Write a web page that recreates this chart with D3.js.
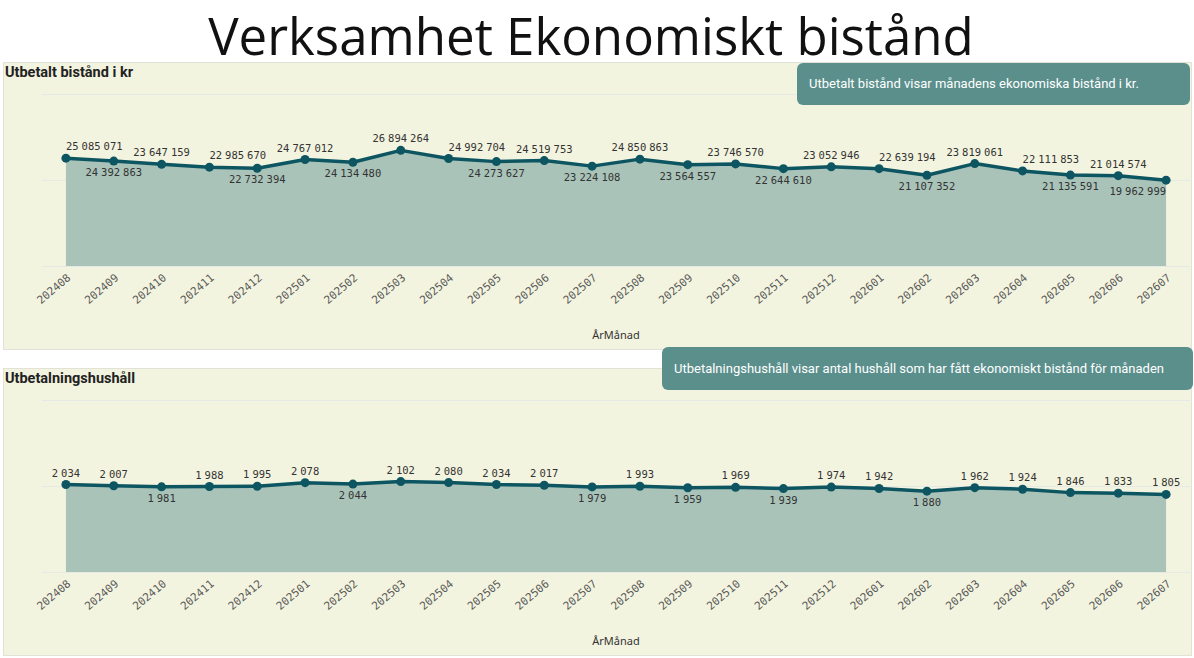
<!DOCTYPE html>
<html>
<head>
<meta charset="utf-8">
<script src="https://cdn.jsdelivr.net/npm/d3@7/dist/d3.min.js"></script>
<style>
  html, body { margin: 0; padding: 0; background: #fff; }
  svg { display: block; }
</style>
</head>
<body>
<svg id="chart" width="1194" height="658"></svg>
<script>
// data
const months = ['202408', '202409', '202410', '202411', '202412', '202501', '202502', '202503',
  '202504', '202505', '202506', '202507', '202508', '202509', '202510', '202511', '202512',
  '202601', '202602', '202603', '202604', '202605', '202606', '202607'];
const utbetaltKr = [25085071, 24392863, 23647159, 22985670, 22732394, 24767012, 24134480, 26894264,
  24992704, 24273627, 24519753, 23224108, 24850863, 23564557, 23746570, 22644610, 23052946,
  22639194, 21107352, 23819061, 22111853, 21135591, 21014574, 19962999];
const hushall = [2034, 2007, 1981, 1988, 1995, 2078, 2044, 2102, 2080, 2034, 2017, 1979, 1993,
  1959, 1969, 1939, 1974, 1942, 1880, 1962, 1924, 1846, 1833, 1805];
const krTicks = [0, 20000000, 40000000];
const hushallTicks = [0, 2000, 4000];

const sv = d3.formatLocale({ decimal: ',', thousands: ' ', grouping: [3], currency: ['', ' kr'] });
const fmt = sv.format(',d');

const svg = d3.select('#chart');

// sidtitel
svg.append('text')
  .attr('x', 591)
  .attr('y', 55)
  .attr('text-anchor', 'middle')
  .style('font-family', '"Open Sans", "Noto Sans", sans-serif')
  .style('font-size', '51px')
  .style('fill', '#111')
  .text('Verksamhet Ekonomiskt bistånd');

const panels = [
  { top: 62, title: 'Utbetalt bistånd i kr', values: utbetaltKr, ticks: krTicks,
    tip: 'Utbetalt bistånd visar månadens ekonomiska bistånd i kr.', tipBox: [797, 63, 393, 42] },
  { top: 368, title: 'Utbetalningshushåll', values: hushall, ticks: hushallTicks,
    tip: 'Utbetalningshushåll visar antal hushåll som har fått ekonomiskt bistånd för månaden', tipBox: [662, 347, 531, 43] }
];

// paneler först, sedan tooltips ovanpå
panels.forEach(p => drawPanel(p));
panels.forEach(p => drawTip(p));

function drawPanel(p) {
  const g = svg.append('g').attr('transform', `translate(0 ${p.top})`);
  const h = 287;
  g.append('rect')
    .attr('x', 3.5).attr('y', 0.5)
    .attr('width', 1188).attr('height', h)
    .attr('fill', '#f3f4df')
    .attr('stroke', '#e2e3d6');

  g.append('text')
    .attr('x', 5).attr('y', 15)
    .style('font-family', 'Roboto, sans-serif')
    .style('font-weight', 'bold')
    .style('font-size', '14.5px')
    .style('fill', '#222')
    .text(p.title);

  const x = d3.scalePoint().domain(months).range([42, 1190]).padding(0.5);
  const y = d3.scaleLinear().domain([0, d3.max(p.ticks)]).range([204, 32]);

  // rutnät
  g.append('g').selectAll('line').data(p.ticks).enter()
    .append('line')
    .attr('x1', 42).attr('x2', 1190)
    .attr('y1', d => y(d) + 0.5).attr('y2', d => y(d) + 0.5)
    .attr('stroke', '#e6eae6')
    .attr('stroke-width', 1);

  const pts = months.map((m, i) => ({ m, v: p.values[i] }));

  const area = d3.area().x(d => x(d.m)).y0(y(0)).y1(d => y(d.v));
  g.append('path').datum(pts)
    .attr('d', area)
    .attr('fill', '#a9c3b9');

  const line = d3.line().x(d => x(d.m)).y(d => y(d.v));
  g.append('path').datum(pts)
    .attr('d', line)
    .attr('fill', 'none')
    .attr('stroke', '#0c5561')
    .attr('stroke-width', 3.5)
    .attr('stroke-linejoin', 'round');

  g.append('g').selectAll('circle').data(pts).enter()
    .append('circle')
    .attr('cx', d => x(d.m))
    .attr('cy', d => y(d.v))
    .attr('r', 4.5)
    .attr('fill', '#0c5561');

  // x-axel
  const xAxis = d3.axisBottom(x).tickSize(0).tickPadding(0);
  const ax = g.append('g').attr('transform', `translate(0 ${y(0)})`).call(xAxis);
  ax.select('.domain').remove();
  ax.selectAll('text')
    .attr('text-anchor', 'end')
    .attr('dy', null)
    .attr('y', null)
    .attr('transform', 'translate(5 13) rotate(-40)')
    .style('font-family', '"DejaVu Sans Mono", monospace')
    .style('font-size', '11px')
    .style('fill', '#5a5a5a');

  g.append('text')
    .attr('x', (42 + 1190) / 2)
    .attr('y', 277)
    .attr('text-anchor', 'middle')
    .style('font-family', '"Noto Sans", sans-serif')
    .style('font-size', '11px')
    .style('fill', '#333')
    .text('ÅrMånad');

  drawLabels(g, pts, x, y);
}

// värdeetiketter: ovanför, under om punkten är en lokal dal eller om det krockar
function drawLabels(g, pts, x, y) {
  const lo = 42, hi = 1190, gap = 2;
  const lastRight = { up: -Infinity, down: -Infinity };
  pts.forEach((d, i) => {
    const px = x(d.m), py = y(d.v);
    const t = g.append('text')
      .style('font-family', '"DejaVu Sans Mono", monospace')
      .style('font-size', '10.5px')
      .style('word-spacing', '-3.3px')
      .style('fill', '#333')
      .text(fmt(d.v));
    const w = t.node().getBBox().width;
    const isValley = i > 0 && i < pts.length - 1 && d.v < pts[i - 1].v && d.v < pts[i + 1].v;
    const sides = isValley ? ['down', 'up'] : ['up', 'down'];
    let pick = null;
    for (const side of sides) {
      for (const left of [px - w / 2, px, px - w]) {
        if (left < lo || left + w > hi) continue;
        if (left < lastRight[side] + gap) continue;
        pick = { side, left };
        break;
      }
      if (pick) break;
    }
    if (!pick) pick = { side: sides[0], left: Math.max(lo, Math.min(hi - w, px - w / 2)) };
    lastRight[pick.side] = pick.left + w;
    t.attr('x', pick.left)
      .attr('y', pick.side === 'up' ? py - 8 : py + 15);
  });
}

function drawTip(p) {
  const [bx, by, bw, bh] = p.tipBox;
  svg.append('rect')
    .attr('x', bx).attr('y', by)
    .attr('width', bw).attr('height', bh)
    .attr('rx', 6)
    .attr('fill', '#5a8f8c');
  svg.append('text')
    .attr('x', bx + 12)
    .attr('y', by + bh / 2 + 4)
    .style('font-family', 'Roboto, sans-serif')
    .style('font-size', '13px')
    .style('fill', '#fff')
    .text(p.tip);
}
</script>
</body>
</html>
